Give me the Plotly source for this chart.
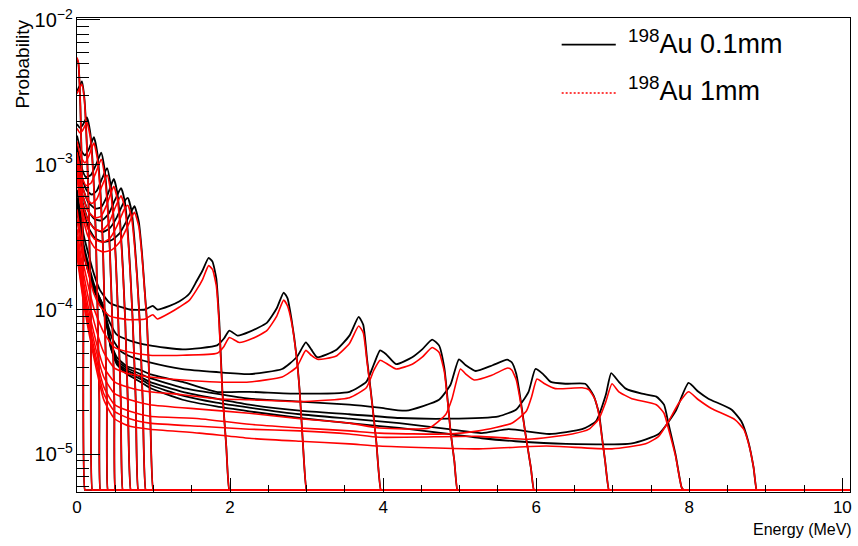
import plotly.graph_objects as go

FLOOR = 5.66e-6
X_MAX = 10.1

# ---------------- low energy lines (0.1 ... 1.0 MeV) ----------------
x_e01 = [0, 0.018, 0.044, 0.064, 0.083, 0.103]
thin_e01 = [5.38e-3, 5.03e-3, 2.55e-3, 8.49e-4, 1.11e-4, FLOOR]
thick_e01 = [5.5e-3, 5.1e-3, 2.55e-3, 8.4e-4, 1.1e-4, FLOOR]

x_e02 = [0, 0.031, 0.064, 0.096, 0.129, 0.155, 0.181, 0.20]
thin_e02 = [3.22e-3, 3.48e-3, 3.76e-3, 2.89e-3, 1.36e-3, 4.54e-4, 8.09e-5, FLOOR]
thick_e02 = [3.1e-3, 3.35e-3, 3.6e-3, 2.8e-3, 1.32e-3, 4.45e-4, 8.0e-5, FLOOR]

x_e03 = [0, 0.038, 0.077, 0.129, 0.175, 0.214, 0.246, 0.272, 0.292, 0.305]
thin_e03 = [1.91e-3, 1.8e-3, 1.89e-3, 2.12e-3, 1.64e-3, 8.49e-4, 3.32e-4, 8.09e-5, 2.31e-5, FLOOR]
thick_e03 = [1.78e-3, 1.66e-3, 1.74e-3, 1.96e-3, 1.53e-3, 8.1e-4, 3.2e-4, 8.0e-5, 2.3e-5, FLOOR]

x_e04 = [0, 0.051, 0.103, 0.155, 0.22, 0.266, 0.305, 0.338, 0.364, 0.39, 0.403]
thin_e04 = [1.59e-3, 1.26e-3, 1.16e-3, 1.28e-3, 1.55e-3, 1.2e-3, 6.71e-4, 2.84e-4, 8.09e-5, 2.31e-5, FLOOR]
thick_e04 = [1.45e-3, 1.13e-3, 1.03e-3, 1.15e-3, 1.41e-3, 1.1e-3, 6.3e-4, 2.75e-4, 8.0e-5, 2.3e-5, FLOOR]

x_e05 = [0, 0.051, 0.116, 0.181, 0.246, 0.316, 0.357, 0.396, 0.429, 0.462, 0.488, 0.501]
thin_e05 = [1.36e-3, 9.93e-4, 8.22e-4, 8.49e-4, 9.93e-4, 1.21e-3, 9.6e-4, 5.74e-4, 2.62e-4, 8.09e-5, 2.31e-5, FLOOR]
thick_e05 = [1.22e-3, 8.8e-4, 7.2e-4, 7.45e-4, 8.8e-4, 1.09e-3, 8.7e-4, 5.3e-4, 2.5e-4, 8.0e-5, 2.3e-5, FLOOR]

x_e06 = [0, 0.064, 0.129, 0.194, 0.259, 0.325, 0.393, 0.435, 0.475, 0.507, 0.540, 0.572, 0.598]
thin_e06 = [1.26e-3, 8.22e-4, 6.62e-4, 6.21e-4, 6.62e-4, 7.98e-4, 9.47e-4, 7.5e-4, 4.54e-4, 2.24e-4, 8.09e-5, 2.31e-5, FLOOR]
thick_e06 = [1.12e-3, 7.3e-4, 5.8e-4, 5.4e-4, 5.8e-4, 7.1e-4, 8.5e-4, 6.8e-4, 4.2e-4, 2.15e-4, 8.0e-5, 2.3e-5, FLOOR]

x_e07 = [0, 0.064, 0.142, 0.233, 0.312, 0.39, 0.442, 0.481, 0.527, 0.566, 0.598, 0.631, 0.664, 0.703]
thin_e07 = [1.16e-3, 7.26e-4, 5.56e-4, 4.99e-4, 5.07e-4, 6.02e-4, 7.15e-4, 7.98e-4, 6.4e-4, 3.88e-4, 2.0e-4, 8.09e-5, 2.31e-5, FLOOR]
thick_e07 = [1.03e-3, 6.4e-4, 4.8e-4, 4.3e-4, 4.4e-4, 5.3e-4, 6.35e-4, 7.1e-4, 5.8e-4, 3.6e-4, 1.9e-4, 8.0e-5, 2.3e-5, FLOOR]

x_e08 = [0, 0.064, 0.142, 0.233, 0.325, 0.416, 0.481, 0.533, 0.576, 0.625, 0.664, 0.696, 0.729, 0.768, 0.80]
thin_e08 = [1.07e-3, 6.4e-4, 4.84e-4, 4.2e-4, 4.12e-4, 4.6e-4, 5.48e-4, 6.3e-4, 6.9e-4, 5.56e-4, 3.43e-4, 1.83e-4, 8.09e-5, 2.31e-5, FLOOR]
thick_e08 = [9.5e-4, 5.6e-4, 4.15e-4, 3.6e-4, 3.5e-4, 3.95e-4, 4.8e-4, 5.55e-4, 6.1e-4, 5.0e-4, 3.2e-4, 1.75e-4, 8.0e-5, 2.3e-5, FLOOR]

x_e09 = [0, 0.064, 0.142, 0.233, 0.338, 0.429, 0.52, 0.585, 0.625, 0.664, 0.716, 0.755, 0.787, 0.82, 0.859, 0.898]
thin_e09 = [9.93e-4, 5.74e-4, 4.2e-4, 3.59e-4, 3.43e-4, 3.65e-4, 4.33e-4, 5.15e-4, 5.65e-4, 5.9e-4, 4.68e-4, 2.84e-4, 1.64e-4, 8.09e-5, 2.31e-5, FLOOR]
thick_e09 = [8.8e-4, 5.0e-4, 3.6e-4, 3.05e-4, 2.92e-4, 3.1e-4, 3.75e-4, 4.5e-4, 5.0e-4, 5.25e-4, 4.2e-4, 2.65e-4, 1.58e-4, 8.0e-5, 2.3e-5, FLOOR]

x_e10 = [0, 0.064, 0.142, 0.233, 0.338, 0.455, 0.559, 0.651, 0.709, 0.751, 0.807, 0.850, 0.881, 0.915, 0.950, 0.996]
thin_e10 = [9.18e-4, 5.31e-4, 3.76e-4, 3.12e-4, 2.93e-4, 3.02e-4, 3.37e-4, 4.12e-4, 4.75e-4, 5.17e-4, 4.06e-4, 2.42e-4, 1.44e-4, 8.09e-5, 2.7e-5, FLOOR]
thick_e10 = [8.1e-4, 4.6e-4, 3.22e-4, 2.66e-4, 2.5e-4, 2.58e-4, 2.93e-4, 3.65e-4, 4.27e-4, 4.7e-4, 3.76e-4, 2.31e-4, 1.40e-4, 8.0e-5, 2.7e-5, FLOOR]

# ---------------- high energy lines (2 ... 9 MeV) ----------------
x_e2 = [0, 0.09, 0.22, 0.30, 0.43, 0.69, 0.89, 0.99, 1.05, 1.21, 1.34, 1.47, 1.56, 1.64, 1.72, 1.77, 1.82, 1.86, 1.90, 1.95, 1.99]
thin_e2 = [6.71e-4, 3.22e-4, 1.77e-4, 1.36e-4, 1.11e-4, 1.0e-4, 1.0e-4, 1.06e-4, 1.0e-4, 1.06e-4, 1.14e-4, 1.29e-4, 1.56e-4, 1.86e-4, 2.27e-4, 2.14e-4, 1.64e-4, 8.09e-5, 2.70e-5, 1.14e-5, FLOOR]
thick_e2 = [4.91e-4, 2.42e-4, 1.29e-4, 1.06e-4, 9.0e-5, 8.5e-5, 8.6e-5, 9.2e-5, 8.6e-5, 9.46e-5, 1.04e-4, 1.16e-4, 1.36e-4, 1.61e-4, 2.01e-4, 1.89e-4, 1.46e-4, 7.48e-5, 2.62e-5, 1.14e-5, FLOOR]

x_e3_thin = [0, 0.09, 0.22, 0.325, 0.43, 0.52, 0.69, 0.95, 1.38, 1.83, 1.92, 1.99, 2.10, 2.25, 2.48, 2.61, 2.70, 2.75, 2.80, 2.87, 2.91, 2.95, 3.00]
thin_e3 = [5.92e-4, 2.75e-4, 1.51e-4, 1.11e-4, 8.09e-5, 6.7e-5, 6.1e-5, 5.65e-5, 5.3e-5, 5.65e-5, 6.3e-5, 7.14e-5, 6.6e-5, 7.0e-5, 8.09e-5, 1.02e-4, 1.31e-4, 1.20e-4, 8.75e-5, 4.68e-5, 2.70e-5, 1.23e-5, FLOOR]
x_e3_thick = [0, 0.09, 0.22, 0.35, 0.49, 0.69, 0.95, 1.38, 1.83, 1.92, 1.99, 2.12, 2.29, 2.48, 2.61, 2.70, 2.75, 2.80, 2.87, 2.91, 2.95, 3.00]
thick_e3 = [4.2e-4, 2.0e-4, 1.02e-4, 6.92e-5, 5.47e-5, 5.06e-5, 4.83e-5, 4.83e-5, 4.98e-5, 5.56e-5, 6.40e-5, 5.92e-5, 6.3e-5, 7.14e-5, 9.0e-5, 1.16e-4, 1.06e-4, 8.35e-5, 4.6e-5, 2.70e-5, 1.23e-5, FLOOR]

x_e4_thin = [0, 0.09, 0.22, 0.325, 0.39, 0.455, 0.56, 0.69, 0.95, 1.38, 1.82, 2.25, 2.68, 2.87, 2.99, 3.06, 3.14, 3.38, 3.56, 3.68, 3.74, 3.79, 3.84, 3.91, 3.97]
thin_e4 = [5.65e-4, 2.62e-4, 1.46e-4, 1.11e-4, 8.35e-5, 6.40e-5, 5.22e-5, 4.75e-5, 4.32e-5, 3.88e-5, 3.70e-5, 3.58e-5, 3.88e-5, 4.68e-5, 5.92e-5, 5.3e-5, 4.68e-5, 5.22e-5, 6.6e-5, 8.9e-5, 7.85e-5, 4.53e-5, 2.70e-5, 1.23e-5, FLOOR]
x_e4_thick = [0, 0.09, 0.22, 0.35, 0.49, 0.69, 0.95, 1.38, 1.82, 2.25, 2.68, 2.87, 2.99, 3.06, 3.14, 3.38, 3.56, 3.68, 3.74, 3.79, 3.84, 3.91, 3.97]
thick_e4 = [3.59e-4, 1.72e-4, 8.35e-5, 5.06e-5, 3.94e-5, 3.58e-5, 3.42e-5, 3.26e-5, 3.16e-5, 3.16e-5, 3.42e-5, 4.0e-5, 5.22e-5, 4.83e-5, 4.53e-5, 4.75e-5, 5.83e-5, 7.7e-5, 6.92e-5, 4.32e-5, 2.66e-5, 1.23e-5, FLOOR]

x_e5_thin = [0, 0.09, 0.22, 0.325, 0.39, 0.44, 0.52, 0.65, 0.83, 0.95, 1.38, 1.82, 2.25, 2.87, 3.56, 3.78, 3.88, 3.96, 4.04, 4.17, 4.38, 4.51, 4.64, 4.73, 4.80, 4.84, 4.88, 4.93, 4.97]
thin_e5 = [5.5e-4, 2.54e-4, 1.44e-4, 1.11e-4, 8.2e-5, 5.92e-5, 4.68e-5, 4.06e-5, 3.82e-5, 3.58e-5, 3.16e-5, 2.70e-5, 2.70e-5, 2.62e-5, 2.70e-5, 3.16e-5, 4.19e-5, 5.22e-5, 4.9e-5, 4.19e-5, 4.68e-5, 5.3e-5, 6.2e-5, 5.65e-5, 3.94e-5, 2.46e-5, 1.45e-5, 9.0e-6, FLOOR]
x_e5_thick = [0, 0.09, 0.22, 0.35, 0.49, 0.69, 0.95, 1.38, 1.82, 2.25, 2.91, 3.56, 3.78, 3.88, 3.96, 4.04, 4.17, 4.38, 4.51, 4.64, 4.73, 4.80, 4.84, 4.88, 4.93, 4.97]
thick_e5 = [3.22e-4, 1.51e-4, 6.92e-5, 4.0e-5, 3.16e-5, 2.88e-5, 2.70e-5, 2.58e-5, 2.42e-5, 2.38e-5, 2.31e-5, 2.46e-5, 2.88e-5, 3.82e-5, 4.46e-5, 4.25e-5, 3.88e-5, 4.19e-5, 4.68e-5, 5.47e-5, 5.06e-5, 3.70e-5, 2.38e-5, 1.45e-5, 9.0e-6, FLOOR]

x_e6_thin = [0, 0.09, 0.22, 0.325, 0.39, 0.44, 0.52, 0.65, 0.83, 0.95, 1.38, 1.82, 2.25, 2.91, 3.56, 3.95, 4.30, 4.73, 4.88, 4.99, 5.08, 5.21, 5.43, 5.62, 5.68, 5.74, 5.79, 5.86, 5.93, 5.97]
thin_e6 = [5.4e-4, 2.5e-4, 1.42e-4, 1.09e-4, 8.09e-5, 5.74e-5, 4.46e-5, 3.94e-5, 3.58e-5, 3.37e-5, 2.88e-5, 2.62e-5, 2.42e-5, 2.31e-5, 2.2e-5, 2.1e-5, 2.0e-5, 2.38e-5, 3.02e-5, 4.53e-5, 4.12e-5, 3.76e-5, 4.12e-5, 4.5e-5, 4.32e-5, 3.58e-5, 2.50e-5, 1.38e-5, 8.1e-6, FLOOR]
x_e6_thick = [0, 0.09, 0.22, 0.35, 0.49, 0.69, 0.95, 1.60, 2.25, 2.91, 3.56, 3.95, 4.60, 4.82, 4.90, 5.01, 5.08, 5.19, 5.42, 5.63, 5.68, 5.74, 5.79, 5.86, 5.93, 5.97]
thick_e6 = [2.93e-4, 1.36e-4, 6.1e-5, 3.42e-5, 2.62e-5, 2.38e-5, 2.2e-5, 2.05e-5, 1.92e-5, 1.76e-5, 1.64e-5, 1.52e-5, 1.52e-5, 1.89e-5, 2.42e-5, 3.88e-5, 3.58e-5, 3.26e-5, 3.52e-5, 3.94e-5, 3.82e-5, 3.26e-5, 2.38e-5, 1.38e-5, 8.1e-6, FLOOR]

x_e7_thin = [0, 0.09, 0.22, 0.325, 0.39, 0.44, 0.52, 0.65, 0.83, 0.95, 1.38, 1.82, 2.25, 2.91, 3.56, 4.21, 4.86, 5.51, 5.74, 5.90, 5.99, 6.09, 6.19, 6.38, 6.64, 6.75, 6.82, 6.86, 6.90, 6.95]
thin_e7 = [5.31e-4, 2.46e-4, 1.40e-4, 1.08e-4, 7.97e-5, 5.65e-5, 4.32e-5, 3.82e-5, 3.42e-5, 3.16e-5, 2.70e-5, 2.42e-5, 2.2e-5, 2.0e-5, 1.89e-5, 1.78e-5, 1.76e-5, 1.83e-5, 2.04e-5, 2.70e-5, 3.88e-5, 3.58e-5, 3.16e-5, 3.07e-5, 3.07e-5, 2.54e-5, 1.92e-5, 1.31e-5, 9.0e-6, FLOOR]
x_e7_thick = [0, 0.09, 0.22, 0.35, 0.49, 0.69, 0.95, 1.60, 2.25, 2.91, 3.56, 3.95, 4.82, 5.25, 5.68, 5.87, 5.94, 6.01, 6.11, 6.25, 6.60, 6.69, 6.77, 6.82, 6.86, 6.90, 6.95]
thick_e7 = [2.71e-4, 1.24e-4, 5.47e-5, 2.92e-5, 2.2e-5, 1.98e-5, 1.83e-5, 1.76e-5, 1.61e-5, 1.52e-5, 1.45e-5, 1.40e-5, 1.38e-5, 1.45e-5, 1.64e-5, 1.98e-5, 2.50e-5, 3.31e-5, 3.07e-5, 2.84e-5, 2.88e-5, 2.79e-5, 2.38e-5, 1.86e-5, 1.29e-5, 9.0e-6, FLOOR]

x_e8_thin = [0, 0.09, 0.22, 0.325, 0.39, 0.44, 0.52, 0.65, 0.83, 0.95, 1.38, 1.82, 2.25, 2.91, 3.56, 4.21, 4.86, 5.29, 5.64, 6.17, 6.60, 6.78, 6.91, 6.98, 7.08, 7.17, 7.38, 7.57, 7.67, 7.73, 7.82, 7.90, 7.93]
thin_e8 = [5.2e-4, 2.42e-4, 1.38e-4, 1.06e-4, 7.85e-5, 5.56e-5, 4.25e-5, 3.70e-5, 3.31e-5, 3.02e-5, 2.54e-5, 2.27e-5, 2.1e-5, 1.89e-5, 1.76e-5, 1.64e-5, 1.49e-5, 1.40e-5, 1.49e-5, 1.38e-5, 1.49e-5, 1.69e-5, 2.58e-5, 3.64e-5, 3.16e-5, 2.84e-5, 2.62e-5, 2.50e-5, 2.2e-5, 1.61e-5, 1.0e-5, 5.9e-6, FLOOR]
x_e8_thick = [0, 0.09, 0.22, 0.35, 0.49, 0.69, 0.95, 1.60, 2.25, 2.91, 3.56, 3.95, 5.25, 5.90, 6.47, 6.69, 6.82, 6.91, 6.99, 7.08, 7.25, 7.57, 7.67, 7.73, 7.82, 7.90, 7.93]
thick_e8 = [2.5e-4, 1.14e-4, 5.06e-5, 2.62e-5, 1.98e-5, 1.76e-5, 1.64e-5, 1.56e-5, 1.49e-5, 1.45e-5, 1.38e-5, 1.31e-5, 1.33e-5, 1.27e-5, 1.38e-5, 1.49e-5, 1.76e-5, 2.31e-5, 3.07e-5, 2.70e-5, 2.42e-5, 2.2e-5, 1.92e-5, 1.49e-5, 9.75e-6, 5.9e-6, FLOOR]

x_e9_thin = [0, 0.09, 0.22, 0.325, 0.39, 0.44, 0.52, 0.65, 0.83, 0.95, 1.38, 1.82, 2.25, 2.91, 3.56, 4.21, 4.86, 5.29, 5.73, 6.39, 7.25, 7.60, 7.82, 7.99, 8.12, 8.25, 8.55, 8.68, 8.77, 8.84, 8.88]
thin_e9 = [5.15e-4, 2.38e-4, 1.36e-4, 1.04e-4, 7.7e-5, 5.47e-5, 4.19e-5, 3.58e-5, 3.16e-5, 2.88e-5, 2.38e-5, 2.14e-5, 1.98e-5, 1.78e-5, 1.64e-5, 1.52e-5, 1.38e-5, 1.29e-5, 1.23e-5, 1.18e-5, 1.19e-5, 1.38e-5, 1.98e-5, 3.11e-5, 2.70e-5, 2.42e-5, 2.04e-5, 1.69e-5, 1.23e-5, 8.1e-6, FLOOR]
x_e9_thick = [0, 0.09, 0.22, 0.35, 0.49, 0.69, 0.95, 1.60, 2.25, 2.91, 3.56, 3.95, 5.25, 6.13, 6.99, 7.43, 7.60, 7.73, 7.86, 7.99, 8.12, 8.29, 8.60, 8.71, 8.77, 8.84, 8.88]
thick_e9 = [2.35e-4, 1.08e-4, 4.68e-5, 2.38e-5, 1.76e-5, 1.56e-5, 1.49e-5, 1.40e-5, 1.29e-5, 1.23e-5, 1.18e-5, 1.14e-5, 1.09e-5, 1.14e-5, 1.09e-5, 1.18e-5, 1.33e-5, 1.69e-5, 2.24e-5, 2.70e-5, 2.38e-5, 2.07e-5, 1.73e-5, 1.49e-5, 1.21e-5, 8.1e-6, FLOOR]

thin_series = [
    (x_e01, thin_e01), (x_e02, thin_e02), (x_e03, thin_e03), (x_e04, thin_e04), (x_e05, thin_e05),
    (x_e06, thin_e06), (x_e07, thin_e07), (x_e08, thin_e08), (x_e09, thin_e09), (x_e10, thin_e10),
    (x_e2, thin_e2), (x_e3_thin, thin_e3), (x_e4_thin, thin_e4), (x_e5_thin, thin_e5),
    (x_e6_thin, thin_e6), (x_e7_thin, thin_e7), (x_e8_thin, thin_e8), (x_e9_thin, thin_e9),
]
thick_series = [
    (x_e01, thick_e01), (x_e02, thick_e02), (x_e03, thick_e03), (x_e04, thick_e04), (x_e05, thick_e05),
    (x_e06, thick_e06), (x_e07, thick_e07), (x_e08, thick_e08), (x_e09, thick_e09), (x_e10, thick_e10),
    (x_e2, thick_e2), (x_e3_thick, thick_e3), (x_e4_thick, thick_e4), (x_e5_thick, thick_e5),
    (x_e6_thick, thick_e6), (x_e7_thick, thick_e7), (x_e8_thick, thick_e8), (x_e9_thick, thick_e9),
]

LABEL_THIN = "<sup>198</sup>Au 0.1mm"
LABEL_THICK = "<sup>198</sup>Au 1mm"
FONT = "Liberation Sans, Arial, sans-serif"


def extended(xs, ys):
    # empty bins beyond the end point sit on the axis floor (as ROOT draws them)
    xe = list(xs) + [xs[-1] + 0.02, X_MAX]
    ye = list(ys) + [FLOOR, FLOOR]
    return xe, ye


fig = go.Figure()
for xs, ys in thin_series:
    xe, ye = extended(xs, ys)
    fig.add_trace(go.Scatter(x=xe, y=ye, mode="lines",
                             line=dict(color="black", width=1.8, shape="spline", smoothing=0.5),
                             showlegend=False, hoverinfo="skip"))
for xs, ys in thick_series:
    xe, ye = extended(xs, ys)
    fig.add_trace(go.Scatter(x=xe, y=ye, mode="lines",
                             line=dict(color="#ff0000", width=1.6, shape="spline", smoothing=0.5),
                             showlegend=False, hoverinfo="skip"))

# legend (drawn manually, ROOT style, no box)
fig.add_shape(type="line", xref="paper", yref="paper", x0=0.627, x1=0.697, y0=0.944, y1=0.944,
              line=dict(color="black", width=1.7))
fig.add_shape(type="line", xref="paper", yref="paper", x0=0.627, x1=0.697, y0=0.842, y1=0.842,
              line=dict(color="#ff0000", width=1.5, dash="2px,2px"))
fig.add_annotation(xref="paper", yref="paper", x=0.7097, y=0.944, xanchor="left", yanchor="middle",
                   yshift=3, text=LABEL_THIN, showarrow=False,
                   font=dict(family=FONT, size=27, color="black"))
fig.add_annotation(xref="paper", yref="paper", x=0.7097, y=0.842, xanchor="left", yanchor="middle",
                   yshift=4, text=LABEL_THICK, showarrow=False,
                   font=dict(family=FONT, size=27, color="black"))

# axis titles (ROOT places them at the axis ends)
fig.add_annotation(xref="paper", yref="paper", x=-0.071, y=1.0, xanchor="center", yanchor="top",
                   text="Probability", textangle=-90, showarrow=False,
                   font=dict(family=FONT, size=19, color="black"))
fig.add_annotation(xref="paper", yref="paper", x=1.0, y=-0.08, xanchor="right", yanchor="middle",
                   xshift=4, text="Energy (MeV)", showarrow=False,
                   font=dict(family=FONT, size=16, color="black"))

fig.update_xaxes(range=[0, X_MAX], dtick=2, tick0=0, ticks="inside", ticklen=14, tickcolor="black",
                 showline=True, linecolor="black", linewidth=1, mirror=True,
                 showgrid=False, zeroline=False,
                 minor=dict(dtick=0.5, ticks="inside", ticklen=7, tickcolor="black", showgrid=False),
                 tickfont=dict(family=FONT, size=17, color="black"))
fig.update_yaxes(type="log", range=[-5.2607, -1.9863], dtick=1, ticks="inside", ticklen=23,
                 tickcolor="black", exponentformat="power", ticklabeloverflow="allow",
                 showline=True, linecolor="black", linewidth=1, mirror=True,
                 showgrid=False, zeroline=False,
                 minor=dict(dtick="D1", ticks="inside", ticklen=12, tickcolor="black", showgrid=False),
                 tickfont=dict(family=FONT, size=16, color="black"))

fig.update_layout(width=858, height=546, margin=dict(l=77, r=6, t=11, b=54),
                  paper_bgcolor="white", plot_bgcolor="white", showlegend=False)

fig.write_html("out.html")
